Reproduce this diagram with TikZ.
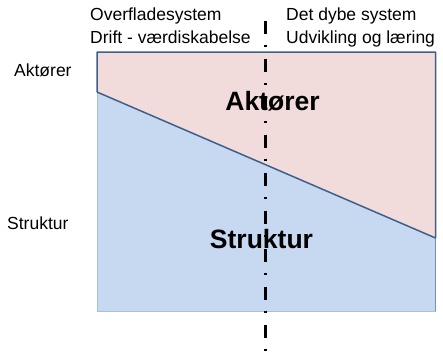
\documentclass[tikz,border=0pt]{standalone}
\usepackage{fontspec}
\setmainfont{Liberation Sans}
\definecolor{pinkfill}{HTML}{F2DCDB}
\definecolor{bluefill}{HTML}{C6D9F0}
\definecolor{edgedark}{HTML}{3F5F8A}
\definecolor{edgelight}{HTML}{A9BFDA}
\tikzset{
  lbl/.style={inner sep=0pt, anchor=base west, font=\fontsize{17.5}{21}\selectfont},
  biglbl/.style={inner sep=0pt, anchor=base, font=\fontsize{26.5}{32}\selectfont\bfseries},
  divider/.style={line width=3pt, dash pattern=on 13pt off 10.5pt on 2.5pt off 12pt}
}
\begin{document}
\begin{tikzpicture}[x=1pt,y=-1pt]
\useasboundingbox (0,0) rectangle (443,356);
% regions
\coordinate (tl) at (97,52);
\coordinate (tr) at (435.5,52);
\coordinate (ml) at (97,92);
\coordinate (mr) at (435.5,238);
\coordinate (bl) at (97,311);
\coordinate (br) at (435.5,311);
\fill[bluefill] (ml) -- (mr) -- (br) -- (bl) -- cycle;
\draw[edgelight, line width=1pt] (ml) -- (bl) -- (br);
\draw[edgedark!70, line width=1.3pt] (mr) -- (br);
\fill[pinkfill] (tl) -- (tr) -- (mr) -- (ml) -- cycle;
\draw[edgedark, line width=1.5pt, line join=round] (ml) -- (tl) -- (tr) -- (mr) -- (ml);
% texts
\node[lbl] (t1) at (90,20.5) {Overfladesystem};
\node[lbl] (t2) at (90,43) {Drift - værdiskabelse};
\node[lbl] (t3) at (286,20.5) {Det dybe system};
\node[lbl] (t4) at (286,43) {Udvikling og læring};
\node[lbl] (la) at (14,76) {Aktører};
\node[lbl] (ls) at (7,229) {Struktur};
\node[biglbl] (ba) at (272.5,110) {Aktører};
\node[biglbl] (bs) at (261.5,248) {Struktur};
% divider
\coordinate (dtop) at (265,21);
\coordinate (dbot) at (265,352);
\draw[divider] (dtop) -- (dbot);
\end{tikzpicture}
\end{document}
